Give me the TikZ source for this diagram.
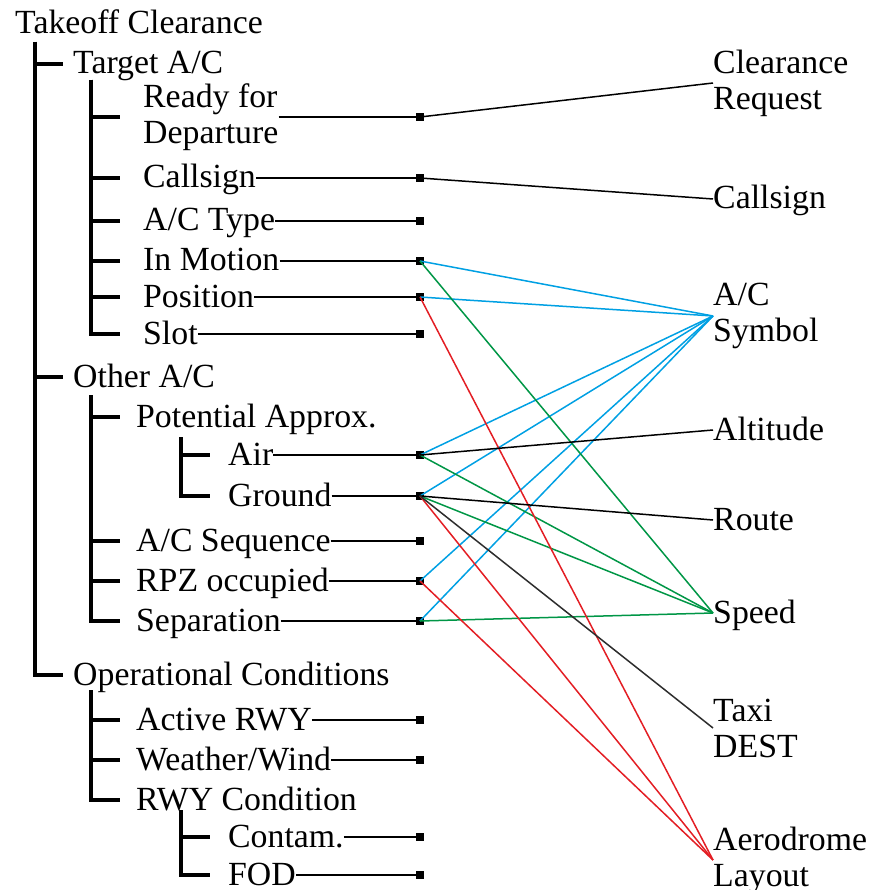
\documentclass[tikz,border=0pt]{standalone}
\usepackage{fontspec}
\setmainfont{Liberation Serif}
\usetikzlibrary{calc}
\definecolor{acblue}{RGB}{0,160,227}
\definecolor{acgreen}{RGB}{0,150,70}
\definecolor{acred}{RGB}{227,30,36}
\definecolor{acgray}{RGB}{45,45,45}
\newcommand{\bigtxt}{\fontsize{33.8}{36}\selectfont}

\begin{document}
\begin{tikzpicture}[x=1pt,y=-1pt]
    \tikzstyle{lbl}=[anchor=west,inner sep=0,font=\bigtxt]
    \tikzstyle{one}=[lbl,text height=24pt,text depth=4pt]
    \tikzstyle{two}=[lbl,align=left]
    \tikzstyle{tree}=[line width=4pt]
    \tikzstyle{link}=[line width=2pt]
    \tikzstyle{pin}=[fill=black,inner sep=0,minimum size=8pt]
    \tikzstyle{map}=[line width=1.5pt]
    \useasboundingbox (0,0) rectangle (871,890);
    % Tree-Labels
    \node[one] (root) at (15,24) {Takeoff Clearance};
    \node[one] (tgt) at (73,64) {Target A/C};
    \node[two] (rdy) at (143,117) {Ready for\\Departure};
    \node[one] (cs) at (143,178) {Callsign};
    \node[one] (typ) at (143,221) {A/C Type};
    \node[one] (mot) at (143,261) {In Motion};
    \node[one] (pos) at (143,297) {Position};
    \node[one] (slot) at (143,334) {Slot};
    \node[one] (oth) at (73,377) {Other A/C};
    \node[one] (pot) at (136,417) {Potential Approx.};
    \node[one] (air) at (228,455) {Air};
    \node[one] (gnd) at (228,496) {Ground};
    \node[one] (seq) at (136,541) {A/C Sequence};
    \node[one] (rpz) at (136,581) {RPZ occupied};
    \node[one] (sep) at (136,621) {Separation};
    \node[one] (ops) at (73,675) {Operational Conditions};
    \node[one] (rwy) at (136,720) {Active RWY};
    \node[one] (wx) at (136,760) {Weather/Wind};
    \node[one] (cond) at (136,800) {RWY Condition};
    \node[one] (con) at (228,837) {Contam.};
    \node[one] (fod) at (228,875) {FOD};
    % Tree-Lines
    \coordinate (root-b) at (35,42);
    \coordinate (tgt-b) at (91,80);
    \coordinate (oth-b) at (91,395);
    \coordinate (pot-b) at (181,437);
    \coordinate (ops-b) at (91,690);
    \coordinate (cond-b) at (181,810);
    \foreach \n in {tgt,oth,ops}
        \draw[tree] (root-b) |- ([xshift=-10pt]\n.west);
    \foreach \n in {rdy,cs,typ,mot,pos,slot}
        \draw[tree] (tgt-b) |- ([xshift=-23pt]\n.west);
    \foreach \n in {pot,seq,rpz,sep}
        \draw[tree] (oth-b) |- ([xshift=-16pt]\n.west);
    \foreach \n in {air,gnd}
        \draw[tree] (pot-b) |- ([xshift=-18pt]\n.west);
    \foreach \n in {rwy,wx,cond}
        \draw[tree] (ops-b) |- ([xshift=-16pt]\n.west);
    \foreach \n in {con,fod}
        \draw[tree] (cond-b) |- ([xshift=-18pt]\n.west);
    % Pins
    \foreach \n/\y in {rdy/117,cs/178,typ/221,mot/261,pos/297,slot/334,
        air/455,gnd/496,seq/541,rpz/581,sep/621,rwy/720,wx/760,con/837,fod/875} {
        \node[pin] (\n-p) at (420,\y) {};
        \draw[link] (\n.east) -- (\n-p);
    }
    % Display-Elements
    \node[two] (req) at (713,83) {Clearance\\Request};
    \node[one] (call) at (713,199) {Callsign};
    \node[two] (sym) at (713,316) {A/C\\Symbol};
    \node[one] (alt) at (713,430) {Altitude};
    \node[one] (rte) at (713,520) {Route};
    \node[one] (spd) at (713,613) {Speed};
    \node[two] (taxi) at (713,728) {Taxi\\DEST};
    \node[two] (aero) at (713,860) {Aerodrome\\Layout};
    % Mapping-Lines
    \draw[map,black] (rdy-p.center) -- (req.west);
    \draw[map,black] (cs-p.center) -- (call.west);
    \foreach \n in {mot,pos,air,gnd,rpz,sep}
        \draw[map,acblue] (\n-p.center) -- (sym.west);
    \foreach \n in {mot,air,gnd,sep}
        \draw[map,acgreen] (\n-p.center) -- (spd.west);
    \foreach \n in {pos,gnd,rpz}
        \draw[map,acred] (\n-p.center) -- (aero.west);
    \draw[map,black] (air-p.center) -- (alt.west);
    \draw[map,black] (gnd-p.center) -- (rte.west);
    \draw[map,acgray] (gnd-p.center) -- (taxi.west);
\end{tikzpicture}
\end{document}
